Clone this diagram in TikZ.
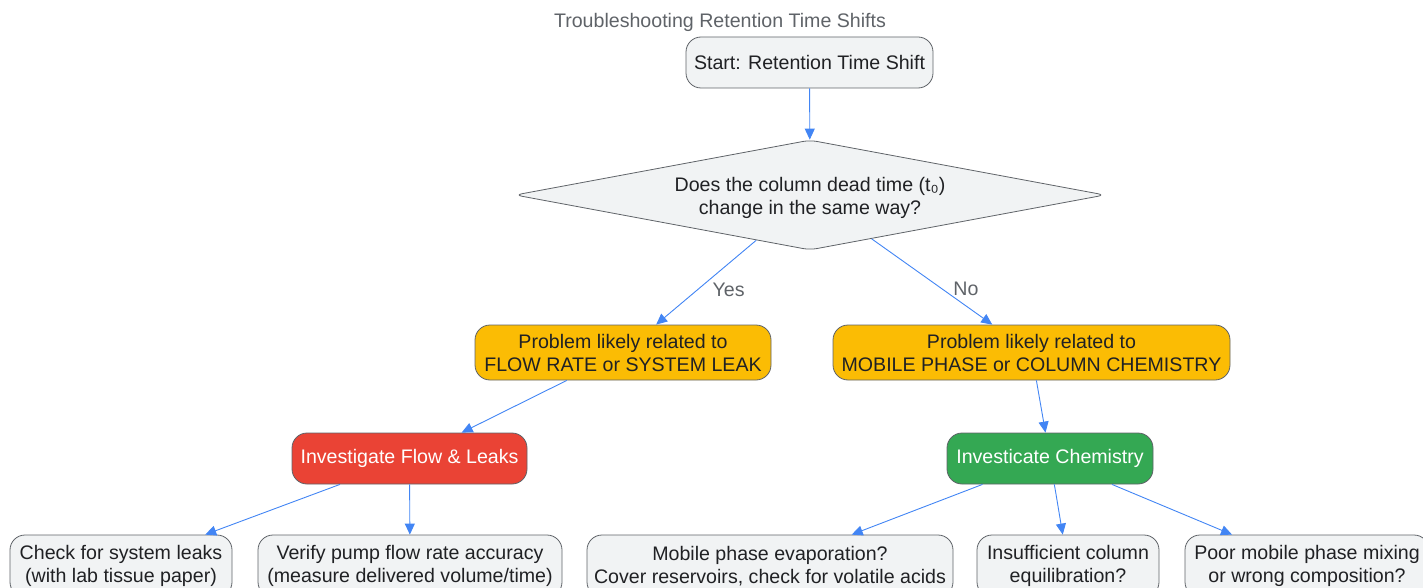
\documentclass[tikz,border=0pt]{standalone}
\usepackage{fontspec}
\setmainfont{Liberation Sans}
\usetikzlibrary{shapes.geometric,arrows.meta}
\definecolor{boxgray}{HTML}{F1F3F4}
\definecolor{edgegray}{HTML}{5F6368}
\definecolor{inkdark}{HTML}{202124}
\definecolor{titlegray}{HTML}{5F6368}
\definecolor{gyellow}{HTML}{FBBC04}
\definecolor{gred}{HTML}{EA4335}
\definecolor{ggreen}{HTML}{34A853}
\definecolor{arrowblue}{HTML}{4285F4}

\begin{document}
\begin{tikzpicture}[x=1pt,y=-1pt,
    txt/.style={font=\fontsize{19.6}{23}\selectfont},
    box/.style={txt,draw=edgegray,line width=0.8pt,fill=boxgray,text=inkdark,
      rounded corners=15pt,align=center,inner sep=0pt},
    warnbox/.style={box,fill=gyellow},
    flowbox/.style={box,fill=gred,text=white},
    chembox/.style={box,fill=ggreen,text=white},
    choice/.style={txt,diamond,aspect=5.4,draw=edgegray,line width=0.8pt,fill=boxgray,
      text=inkdark,align=center,inner sep=0pt,rounded corners=7pt},
    lbl/.style={txt,text=titlegray,inner sep=0pt},
    link/.style={-{Triangle[length=11pt,width=10pt]},draw=arrowblue,line width=0.9pt}]
  \useasboundingbox (0,0) rectangle (1423,588);
  \clip (0,0) rectangle (1423,588);

  \node[lbl] (title) at (720,22) {Troubleshooting Retention Time Shifts};
  \node[box,minimum width=247,minimum height=51] (start) at (809.5,62.5) {Start: Retention Time Shift};
  \node[choice,minimum width=590,minimum height=110] (deadtime) at (810,195)
    {\begin{tabular}{@{}c@{}}\rule{0pt}{22pt}Does the column dead time (t₀)\\ change in the same way?\end{tabular}};

  \node[warnbox,minimum width=296,minimum height=55] (flowprob) at (623,352.5)
    {Problem likely related to\\FLOW RATE or SYSTEM LEAK};
  \node[warnbox,minimum width=397,minimum height=55] (chemprob) at (1031.5,352.5)
    {Problem likely related to\\MOBILE PHASE or COLUMN CHEMISTRY};

  \node[flowbox,minimum width=235,minimum height=51] (flowinv) at (409.5,458.5) {Investigate Flow \& Leaks};
  \node[chembox,minimum width=206,minimum height=51] (cheminv) at (1050,458.5) {Investicate Chemistry};

  % bottom row, cut by the lower edge
  \node[box,minimum width=222,minimum height=62] (leaks) at (121,566) {Check for system leaks\\(with lab tissue paper)};
  \node[box,minimum width=304,minimum height=62] (pump) at (410,566) {Verify pump flow rate accuracy\\(measure delivered volume/time)};
  \node[box,minimum width=366,minimum height=62] (evap) at (770,566) {Mobile phase evaporation?\\Cover reservoirs, check for volatile acids};
  \node[box,minimum width=182,minimum height=62] (equil) at (1068,566) {Insufficient column\\equilibration?};
  \node[box,minimum width=244,minimum height=62] (mixing) at (1307,566) {Poor mobile phase mixing\\or wrong composition?};

  \draw[link] (start) -- (deadtime);
  \draw[link] (deadtime) -- node[lbl,anchor=west,xshift=6pt,yshift=-7pt] {Yes} (flowprob);
  \draw[link] (deadtime) -- node[lbl,anchor=west,xshift=21pt,yshift=-7pt] {No} (chemprob);
  \draw[link] (flowprob) -- (flowinv);
  \draw[link] (chemprob) -- (cheminv);
  \draw[link] (flowinv) -- (leaks);
  \draw[link] (flowinv) -- (pump);
  \draw[link] (cheminv) -- (evap);
  \draw[link] (cheminv) -- (equil);
  \draw[link] (cheminv) -- (mixing);
\end{tikzpicture}
\end{document}
